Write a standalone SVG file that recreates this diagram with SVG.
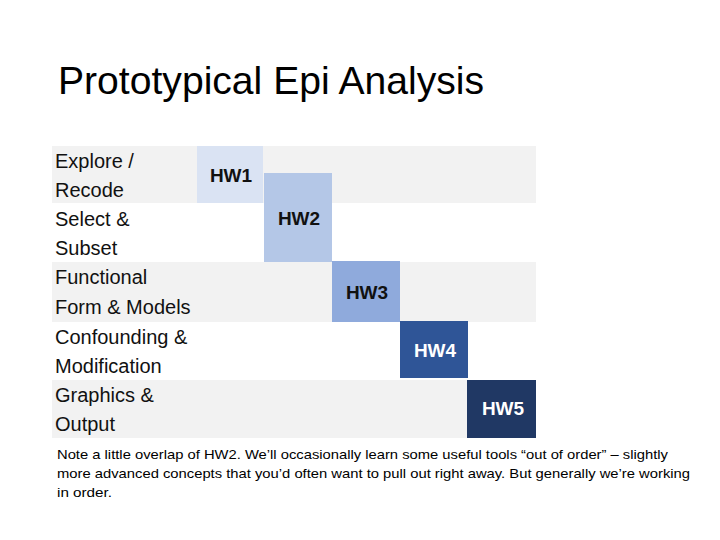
<svg xmlns="http://www.w3.org/2000/svg" width="720" height="540" viewBox="0 0 720 540">
  <style>
    .title { font-family: "Liberation Sans", Arial, sans-serif; font-size: 39px; fill: #000; }
    .lbl { font-family: "Liberation Sans", Arial, sans-serif; font-size: 20px; fill: #111; }
    .hw { font-family: "Liberation Sans", Arial, sans-serif; font-size: 19px; font-weight: bold; text-anchor: middle; }
    .dark { fill: #111; }
    .light { fill: #fff; }
    .cap { font-family: "Liberation Sans", Arial, sans-serif; font-size: 13px; fill: #000; }
    .gray { fill: #f2f2f2; }
    .white { fill: #ffffff; }
  </style>
  <rect width="720" height="540" fill="#fff"/>
  <text class="title" x="58" y="94" textLength="426" lengthAdjust="spacingAndGlyphs">Prototypical Epi Analysis</text>

  <g id="row1">
    <rect class="gray" x="52" y="146" width="484" height="57"/>
    <text class="lbl" x="55" y="168">Explore /</text>
    <text class="lbl" x="55" y="197">Recode</text>
  </g>
  <g id="row2">
    <rect class="white" x="52" y="203" width="484" height="59"/>
    <text class="lbl" x="55" y="226">Select &amp;</text>
    <text class="lbl" x="55" y="255">Subset</text>
  </g>
  <g id="row3">
    <rect class="gray" x="52" y="262" width="484" height="60"/>
    <text class="lbl" x="55" y="284">Functional</text>
    <text class="lbl" x="55" y="314">Form &amp; Models</text>
  </g>
  <g id="row4">
    <rect class="white" x="52" y="322" width="484" height="58"/>
    <text class="lbl" x="55" y="344">Confounding &amp;</text>
    <text class="lbl" x="55" y="373">Modification</text>
  </g>
  <g id="row5">
    <rect class="gray" x="52" y="380" width="484" height="58"/>
    <text class="lbl" x="55" y="402">Graphics &amp;</text>
    <text class="lbl" x="55" y="431">Output</text>
  </g>

  <g id="hw1">
    <rect x="197" y="146" width="66" height="57" fill="#dae3f3"/>
    <text class="hw dark" x="231" y="182">HW1</text>
  </g>
  <g id="hw2">
    <rect x="264" y="173" width="68" height="89" fill="#b4c7e7"/>
    <text class="hw dark" x="299" y="225">HW2</text>
  </g>
  <g id="hw3">
    <rect x="332" y="261" width="68" height="61" fill="#8faadc"/>
    <text class="hw dark" x="367" y="299">HW3</text>
  </g>
  <g id="hw4">
    <rect x="400" y="321" width="68" height="57" fill="#2f5597"/>
    <text class="hw light" x="435" y="357">HW4</text>
  </g>
  <g id="hw5">
    <rect x="467" y="380" width="69" height="58" fill="#203864"/>
    <text class="hw light" x="503" y="415">HW5</text>
  </g>

  <g id="connectors"></g>

  <g id="caption">
    <text class="cap" x="57" y="459" textLength="611" lengthAdjust="spacingAndGlyphs">Note a little overlap of HW2. We’ll occasionally learn some useful tools “out of order” – slightly</text>
    <text class="cap" x="57" y="478" textLength="633" lengthAdjust="spacingAndGlyphs">more advanced concepts that you’d often want to pull out right away. But generally we’re working</text>
    <text class="cap" x="57" y="497" textLength="55" lengthAdjust="spacingAndGlyphs">in order.</text>
  </g>
</svg>
